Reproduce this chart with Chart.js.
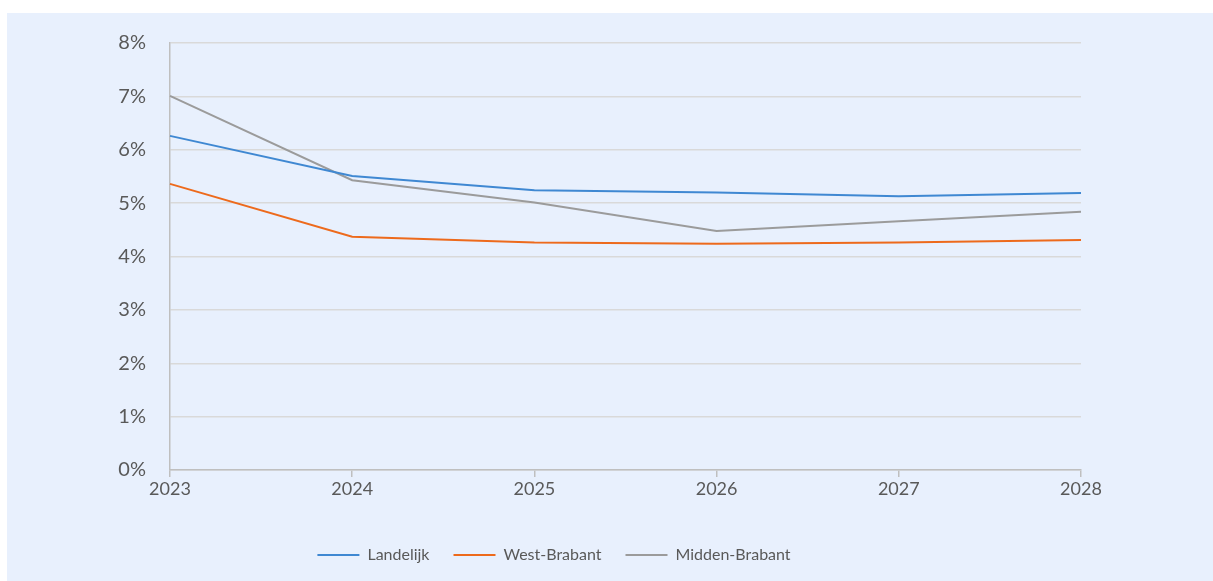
<!DOCTYPE html>
<html>
<head>
<meta charset="utf-8">
<script src="https://cdn.jsdelivr.net/npm/chart.js@4"></script>
<style>
    body { margin: 0; background: #ffffff; overflow: hidden; }
    #panel {
        position: absolute;
        left: 7px;
        top: 13px;
        width: 1206px;
        height: 568px;
        background: #e8f0fd;
    }
</style>
</head>
<body>
<div id="panel"><canvas id="chart" width="1206" height="568"></canvas></div>
<script>
const years = ['2023', '2024', '2025', '2026', '2027', '2028'];
const landelijk = [6.26, 5.51, 5.24, 5.20, 5.13, 5.19];
const westBrabant = [5.36, 4.37, 4.26, 4.24, 4.26, 4.31];
const middenBrabant = [7.01, 5.43, 5.01, 4.48, 4.66, 4.84];
const yTicks = [0, 1, 2, 3, 4, 5, 6, 7, 8];

const font = 'Lato, "Open Sans", sans-serif';
const textColor = '#595959';

function lineSet(label, data, color) {
    return {
        label: label,
        data: data,
        borderColor: color,
        backgroundColor: color,
        borderWidth: 2,
        pointRadius: 0,
        tension: 0,
        pointStyle: 'line'
    };
}

const ctx = document.getElementById('chart').getContext('2d');
new Chart(ctx, {
    type: 'line',
    data: {
        labels: years,
        datasets: [
            lineSet('Landelijk', landelijk, '#3f88d2'),
            lineSet('West-Brabant', westBrabant, '#ed6a1c'),
            lineSet('Midden-Brabant', middenBrabant, '#9b9b9b')
        ]
    },
    options: {
        responsive: false,
        animation: false,
        layout: {
            padding: { top: 30, left: 20, right: 132, bottom: 8 }
        },
        plugins: {
            legend: {
                position: 'bottom',
                labels: {
                    usePointStyle: true,
                    pointStyleWidth: 42,
                    boxHeight: 2,
                    padding: 24,
                    color: textColor,
                    font: { family: font, size: 16 }
                }
            },
            tooltip: { enabled: false }
        },
        scales: {
            x: {
                offset: false,
                grid: {
                    display: true,
                    drawOnChartArea: false,
                    tickLength: 7,
                    color: '#bfbfbf',
                    lineWidth: 1.5
                },
                border: { color: '#bfbfbf', width: 1.5 },
                ticks: {
                    color: textColor,
                    padding: 1,
                    maxRotation: 0,
                    font: { family: font, size: 18 }
                },
                afterFit: scale => { scale.height = 53; }
            },
            y: {
                min: 0,
                max: 8,
                afterBuildTicks: scale => {
                    scale.ticks = yTicks.map(v => ({ value: v }));
                },
                grid: {
                    color: '#d9d9d9',
                    lineWidth: 1.5,
                    drawTicks: false
                },
                border: { color: '#bfbfbf', width: 1.5 },
                ticks: {
                    color: textColor,
                    padding: 24,
                    font: { family: font, size: 20 },
                    callback: v => v + '%'
                },
                afterFit: scale => {
                    scale.width = 143;
                    scale.paddingTop = 0;
                    scale.paddingBottom = 0;
                }
            }
        }
    }
});
</script>
</body>
</html>
